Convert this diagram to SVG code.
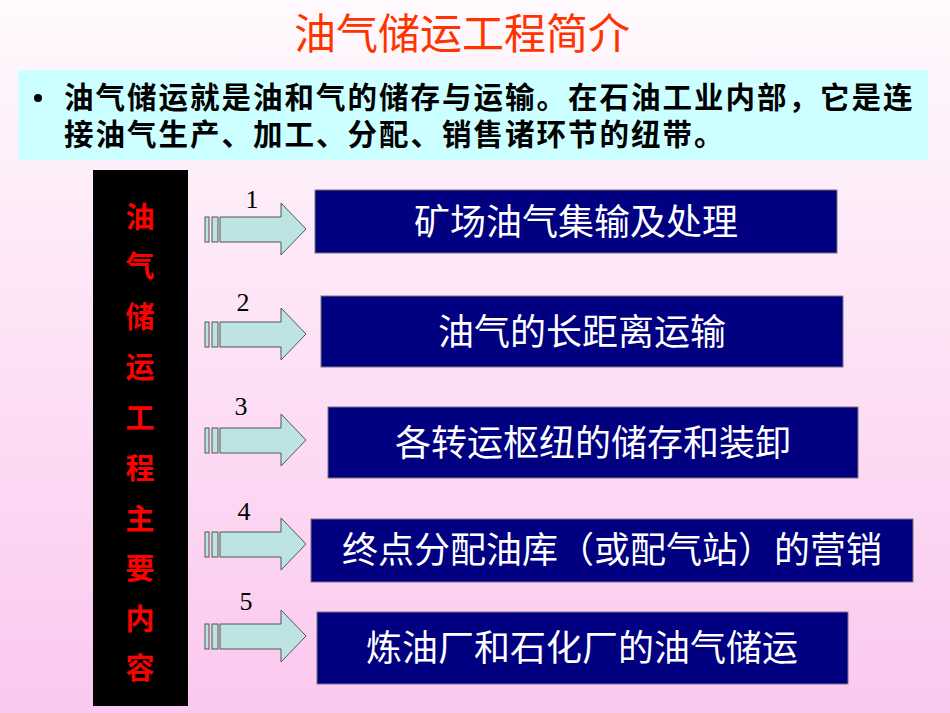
<svg xmlns="http://www.w3.org/2000/svg" width="950" height="713" viewBox="0 0 950 713">
<defs>
<linearGradient id="bg" x1="0" y1="0" x2="0" y2="1"><stop offset="0" stop-color="#fffafd"/><stop offset="1" stop-color="#fbc8ef"/></linearGradient>
<g id="arr"><rect x="205" y="-12" width="4" height="25" fill="#bde3e3" stroke="#555" stroke-width="1"/><rect x="212" y="-12" width="6" height="25" fill="#bde3e3" stroke="#555" stroke-width="1"/><path d="M220,-12 H281 V-26 L306,0 L281,26 V13 H220 Z" fill="#bde3e3" stroke="#555" stroke-width="1"/></g>
</defs>
<style>
.cj{font-family:"Noto Sans CJK SC","Liberation Sans",sans-serif}
.box{fill:#000080;stroke:#777;stroke-width:1}
.bt{fill:#fff;font-size:36px;text-anchor:middle}
.num{font-family:"Liberation Serif",serif;font-size:26px;fill:#000;text-anchor:middle}
.v{fill:#ff0000;font-size:29px;font-weight:bold;text-anchor:middle}
</style>
<rect width="950" height="713" fill="url(#bg)"/>
<text x="462" y="49" class="cj" font-size="42" fill="#ff3300" text-anchor="middle">油气储运工程简介</text>
<rect x="18" y="70" width="910" height="90" fill="#ccffff"/>
<circle cx="38" cy="98" r="4" fill="#000"/>
<text class="cj" font-size="29.5" letter-spacing="2" font-weight="bold" fill="#000"><tspan x="64" y="108">油气储运就是油和气的储存与运输。在石油工业内部，它是连</tspan><tspan x="64" y="145">接油气生产、加工、分配、销售诸环节的纽带。</tspan></text>
<g id="sidebar"><rect x="93" y="170" width="95" height="536" fill="#000"/>
<g class="cj v"><text x="140" y="228">油</text><text x="140" y="277">气</text><text x="140" y="328">储</text><text x="140" y="378">运</text><text x="140" y="429">工</text><text x="140" y="479">程</text><text x="140" y="530">主</text><text x="140" y="579">要</text><text x="140" y="630">内</text><text x="140" y="679">容</text></g></g>
<g id="connectors">
<use href="#arr" y="229"/><use href="#arr" y="334"/><use href="#arr" y="440"/><use href="#arr" y="544"/><use href="#arr" y="636"/>
<text class="num" x="252" y="208">1</text><text class="num" x="243" y="311">2</text><text class="num" x="241" y="415">3</text><text class="num" x="244" y="520">4</text><text class="num" x="246" y="610">5</text>
</g>
<g id="n1"><rect class="box" x="315" y="190" width="522" height="63"/><text class="cj bt" x="576" y="235">矿场油气集输及处理</text></g>
<g id="n2"><rect class="box" x="321" y="296" width="522" height="71"/><text class="cj bt" x="582" y="345">油气的长距离运输</text></g>
<g id="n3"><rect class="box" x="328" y="407" width="530" height="71"/><text class="cj bt" x="593" y="456">各转运枢纽的储存和装卸</text></g>
<g id="n4"><rect class="box" x="311" y="519" width="602" height="63"/><text class="cj bt" x="612" y="563" font-size="34">终点分配油库（或配气站）的营销</text></g>
<g id="n5"><rect class="box" x="317" y="612" width="531" height="72"/><text class="cj bt" x="582" y="661">炼油厂和石化厂的油气储运</text></g>
</svg>
